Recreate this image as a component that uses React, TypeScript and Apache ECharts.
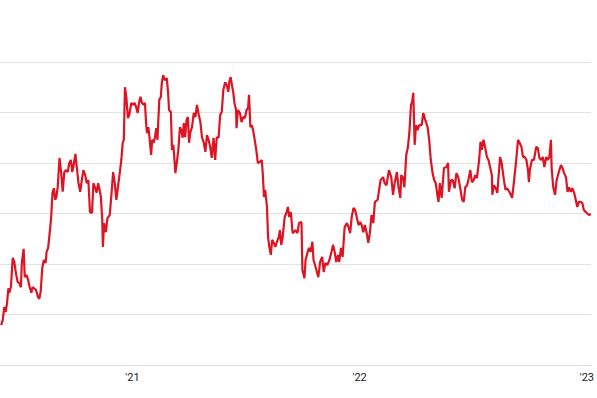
import React, { useEffect, useRef } from "react";
import * as echarts from "echarts";

// Decimal-year dates of each observation
const dates: number[] = [
  2020.422, 2020.429, 2020.436, 2020.442, 2020.448, 2020.454, 2020.458, 2020.465, 2020.473, 2020.48,
  2020.487, 2020.495, 2020.502, 2020.509, 2020.513, 2020.521, 2020.526, 2020.534, 2020.541, 2020.548,
  2020.555, 2020.56, 2020.567, 2020.575, 2020.584, 2020.59, 2020.596, 2020.603, 2020.61, 2020.618,
  2020.622, 2020.629, 2020.636, 2020.642, 2020.648, 2020.654, 2020.66, 2020.665, 2020.671, 2020.679,
  2020.686, 2020.693, 2020.7, 2020.708, 2020.715, 2020.722, 2020.729, 2020.735, 2020.741, 2020.749,
  2020.755, 2020.762, 2020.77, 2020.777, 2020.784, 2020.792, 2020.799, 2020.806, 2020.813, 2020.822,
  2020.828, 2020.835, 2020.842, 2020.849, 2020.857, 2020.861, 2020.867, 2020.87, 2020.875, 2020.883,
  2020.89, 2020.9, 2020.908, 2020.915, 2020.922, 2020.929, 2020.936, 2020.944, 2020.951, 2020.957,
  2020.962, 2020.967, 2020.973, 2020.98, 2020.986, 2020.995, 2021.002, 2021.009, 2021.016, 2021.023,
  2021.029, 2021.035, 2021.042, 2021.049, 2021.055, 2021.06, 2021.064, 2021.07, 2021.075, 2021.082,
  2021.087, 2021.093, 2021.099, 2021.105, 2021.11, 2021.118, 2021.125, 2021.129, 2021.135, 2021.142,
  2021.151, 2021.157, 2021.161, 2021.169, 2021.174, 2021.18, 2021.189, 2021.195, 2021.202, 2021.209,
  2021.215, 2021.221, 2021.226, 2021.232, 2021.238, 2021.244, 2021.249, 2021.255, 2021.262, 2021.27,
  2021.277, 2021.284, 2021.292, 2021.299, 2021.306, 2021.313, 2021.321, 2021.328, 2021.335, 2021.342,
  2021.349, 2021.357, 2021.364, 2021.371, 2021.379, 2021.386, 2021.393, 2021.4, 2021.408, 2021.415,
  2021.422, 2021.426, 2021.432, 2021.438, 2021.444, 2021.449, 2021.456, 2021.458, 2021.464, 2021.473,
  2021.48, 2021.487, 2021.495, 2021.502, 2021.509, 2021.513, 2021.519, 2021.525, 2021.531, 2021.538,
  2021.545, 2021.552, 2021.56, 2021.569, 2021.574, 2021.579, 2021.584, 2021.592, 2021.597, 2021.603,
  2021.609, 2021.615, 2021.622, 2021.629, 2021.636, 2021.644, 2021.649, 2021.655, 2021.661, 2021.67,
  2021.679, 2021.684, 2021.69, 2021.697, 2021.705, 2021.719, 2021.726, 2021.733, 2021.744, 2021.748,
  2021.757, 2021.762, 2021.77, 2021.777, 2021.784, 2021.792, 2021.797, 2021.806, 2021.818, 2021.826,
  2021.835, 2021.842, 2021.849, 2021.858, 2021.867, 2021.875, 2021.883, 2021.89, 2021.897, 2021.905,
  2021.91, 2021.918, 2021.925, 2021.934, 2021.944, 2021.951, 2021.958, 2021.965, 2021.973, 2021.98,
  2021.987, 2021.995, 2022.002, 2022.009, 2022.016, 2022.023, 2022.031, 2022.038, 2022.045, 2022.052,
  2022.06, 2022.067, 2022.079, 2022.092, 2022.103, 2022.11, 2022.118, 2022.129, 2022.139, 2022.147,
  2022.154, 2022.164, 2022.171, 2022.179, 2022.183, 2022.19, 2022.197, 2022.205, 2022.212, 2022.219,
  2022.226, 2022.231, 2022.236, 2022.242, 2022.248, 2022.255, 2022.262, 2022.273, 2022.28, 2022.289,
  2022.299, 2022.306, 2022.313, 2022.321, 2022.328, 2022.335, 2022.342, 2022.347, 2022.353, 2022.361,
  2022.371, 2022.382, 2022.389, 2022.393, 2022.402, 2022.41, 2022.418, 2022.426, 2022.434, 2022.444,
  2022.451, 2022.458, 2022.465, 2022.473, 2022.48, 2022.487, 2022.494, 2022.502, 2022.509, 2022.516,
  2022.526, 2022.532, 2022.538, 2022.545, 2022.552, 2022.56, 2022.567, 2022.574, 2022.582, 2022.584,
  2022.591, 2022.599, 2022.606, 2022.618, 2022.625, 2022.635, 2022.642, 2022.649, 2022.661, 2022.671,
  2022.68, 2022.69, 2022.697, 2022.704, 2022.712, 2022.719, 2022.726, 2022.734, 2022.741, 2022.745,
  2022.749, 2022.758, 2022.767, 2022.777, 2022.784, 2022.791, 2022.799, 2022.806, 2022.813, 2022.821,
  2022.828, 2022.835, 2022.842, 2022.845, 2022.852, 2022.86, 2022.867, 2022.879, 2022.886, 2022.893,
  2022.9, 2022.908, 2022.915, 2022.922, 2022.929, 2022.936, 2022.944, 2022.951, 2022.958, 2022.965,
  2022.973, 2022.98, 2022.987, 2022.999, 2023.009, 2023.018,
];

const values: number[] = [
  0.79, 0.89, 1.15, 1.05, 1.23, 1.52, 1.43, 1.54, 2.12, 2.04,
  1.82, 1.64, 1.62, 1.54, 2.02, 2.3, 1.74, 1.78, 1.68, 1.54,
  1.43, 1.54, 1.52, 1.49, 1.35, 1.31, 1.45, 1.92, 2.08, 2.02,
  2.24, 2.32, 2.63, 2.91, 3.41, 3.5, 3.27, 3.33, 3.52, 4.1,
  3.82, 3.43, 3.82, 3.86, 3.82, 4.0, 4.06, 3.82, 3.96, 4.18,
  3.92, 3.62, 3.43, 3.66, 3.86, 3.76, 3.6, 3.66, 3.03, 3.01,
  3.6, 3.52, 3.41, 3.6, 3.43, 3.33, 2.87, 2.34, 2.81, 2.63,
  2.91, 2.97, 3.41, 3.82, 3.6, 3.27, 3.52, 3.8, 4.06, 4.4,
  4.46, 5.5, 5.31, 4.89, 4.95, 5.19, 5.15, 5.19, 5.11, 4.99,
  5.19, 5.31, 5.19, 5.15, 5.19, 4.79, 4.59, 4.71, 4.51, 4.16,
  4.46, 4.4, 4.51, 4.69, 4.46, 5.25, 5.31, 5.58, 5.74, 5.64,
  5.68, 5.39, 5.05, 5.01, 4.26, 4.36, 3.8, 4.0, 4.26, 4.71,
  4.65, 4.5, 4.79, 4.51, 4.85, 4.91, 4.4, 4.61, 4.71, 4.99,
  4.91, 5.15, 4.95, 4.81, 4.51, 4.42, 4.22, 4.55, 4.46, 4.32,
  4.1, 4.5, 4.06, 4.51, 4.5, 4.95, 5.01, 5.45, 5.6, 5.54,
  5.41, 5.6, 5.7, 5.54, 5.39, 5.19, 5.05, 4.69, 5.05, 4.99,
  4.81, 4.91, 4.89, 5.05, 5.09, 5.35, 4.71, 4.75, 4.65, 4.46,
  4.26, 4.0, 4.02, 4.06, 3.76, 3.33, 3.47, 3.13, 2.53, 2.32,
  2.18, 2.48, 2.42, 2.34, 2.44, 2.53, 2.67, 2.38, 2.53, 2.93,
  3.03, 3.13, 2.93, 3.03, 2.61, 2.67, 2.61, 2.81, 2.83, 1.88,
  1.72, 2.08, 2.22, 2.32, 2.24, 2.44, 2.08, 1.94, 1.74, 2.04,
  2.14, 1.84, 2.02, 1.98, 2.08, 2.22, 2.38, 2.24, 2.04, 2.18,
  2.04, 2.32, 2.14, 2.73, 2.81, 2.73, 2.61, 2.93, 3.11, 3.07,
  2.93, 2.77, 2.83, 2.77, 2.63, 2.77, 2.61, 2.42, 2.61, 2.97,
  2.81, 3.23, 3.27, 3.66, 3.72, 3.6, 3.56, 3.86, 3.72, 3.37,
  3.6, 3.82, 3.52, 3.31, 3.76, 3.72, 3.52, 4.16, 4.3, 4.61,
  5.15, 5.21, 5.39, 4.36, 4.75, 4.65, 4.75, 4.75, 4.99, 4.85,
  4.71, 4.46, 4.06, 3.8, 3.66, 3.6, 3.37, 3.23, 3.6, 3.31,
  3.9, 3.92, 4.0, 3.43, 3.66, 3.66, 3.5, 3.8, 3.72, 3.47,
  3.27, 3.23, 3.52, 3.56, 3.7, 3.86, 3.62, 3.66, 3.76, 3.7,
  4.06, 4.42, 4.26, 4.46, 4.32, 4.12, 4.06, 3.92, 3.76, 3.37,
  3.56, 3.5, 3.41, 4.12, 4.0, 3.66, 3.47, 3.5, 3.41, 3.31,
  3.66, 4.1, 4.46, 4.4, 4.32, 4.12, 4.12, 4.06, 3.86, 3.62,
  3.86, 4.06, 4.06, 4.32, 4.3, 4.1, 4.06, 4.12, 3.92, 4.12,
  4.06, 4.12, 4.46, 3.9, 3.52, 3.37, 3.66, 3.86, 3.96, 3.9,
  3.8, 3.72, 3.43, 3.52, 3.43, 3.5, 3.41, 3.27, 3.13, 3.23,
  3.23, 3.21, 3.07, 3.01, 2.97, 2.99,
];

const yearTicks: number[] = [2021, 2022, 2023];

export default function App() {
  const ref = useRef<HTMLDivElement>(null);
  useEffect(() => {
    if (!ref.current) return;
    const chart = echarts.init(ref.current, undefined, { renderer: "svg" });
    const seriesData = dates.map((d, i) => [d, values[i]]);
    chart.setOption({
      animation: false,
      grid: { left: 0, right: 0, top: 62, bottom: 33, containLabel: false },
      xAxis: {
        type: "value",
        min: 2020.417,
        max: 2023.018,
        splitLine: { show: false },
        axisLine: { show: true, lineStyle: { color: "#dcdcdc", width: 1 } },
        axisTick: { show: false },
        axisLabel: {
          show: true,
          customValues: yearTicks,
          formatter: (v: number) => "'" + String(Math.round(v)).slice(2),
          color: "#222",
          fontSize: 11,
          fontFamily: "Roboto, 'Liberation Sans', sans-serif",
          margin: 7,
        },
      },
      yAxis: {
        type: "value",
        min: 0,
        max: 6,
        interval: 1,
        axisLine: { show: false },
        axisTick: { show: false },
        axisLabel: { show: false },
        splitLine: { show: true, lineStyle: { color: "#e2e2e2", width: 1 } },
      },
      series: [
        {
          type: "line",
          data: seriesData,
          showSymbol: false,
          symbol: "none",
          lineStyle: { color: "#dc1423", width: 2.2 },
          clip: false,
        },
      ],
    });
    return () => chart.dispose();
  }, []);
  return (
    <div
      ref={ref}
      style={{ position: "fixed", left: 0, top: 0, width: 597, height: 398, background: "#fff" }}
    />
  );
}
